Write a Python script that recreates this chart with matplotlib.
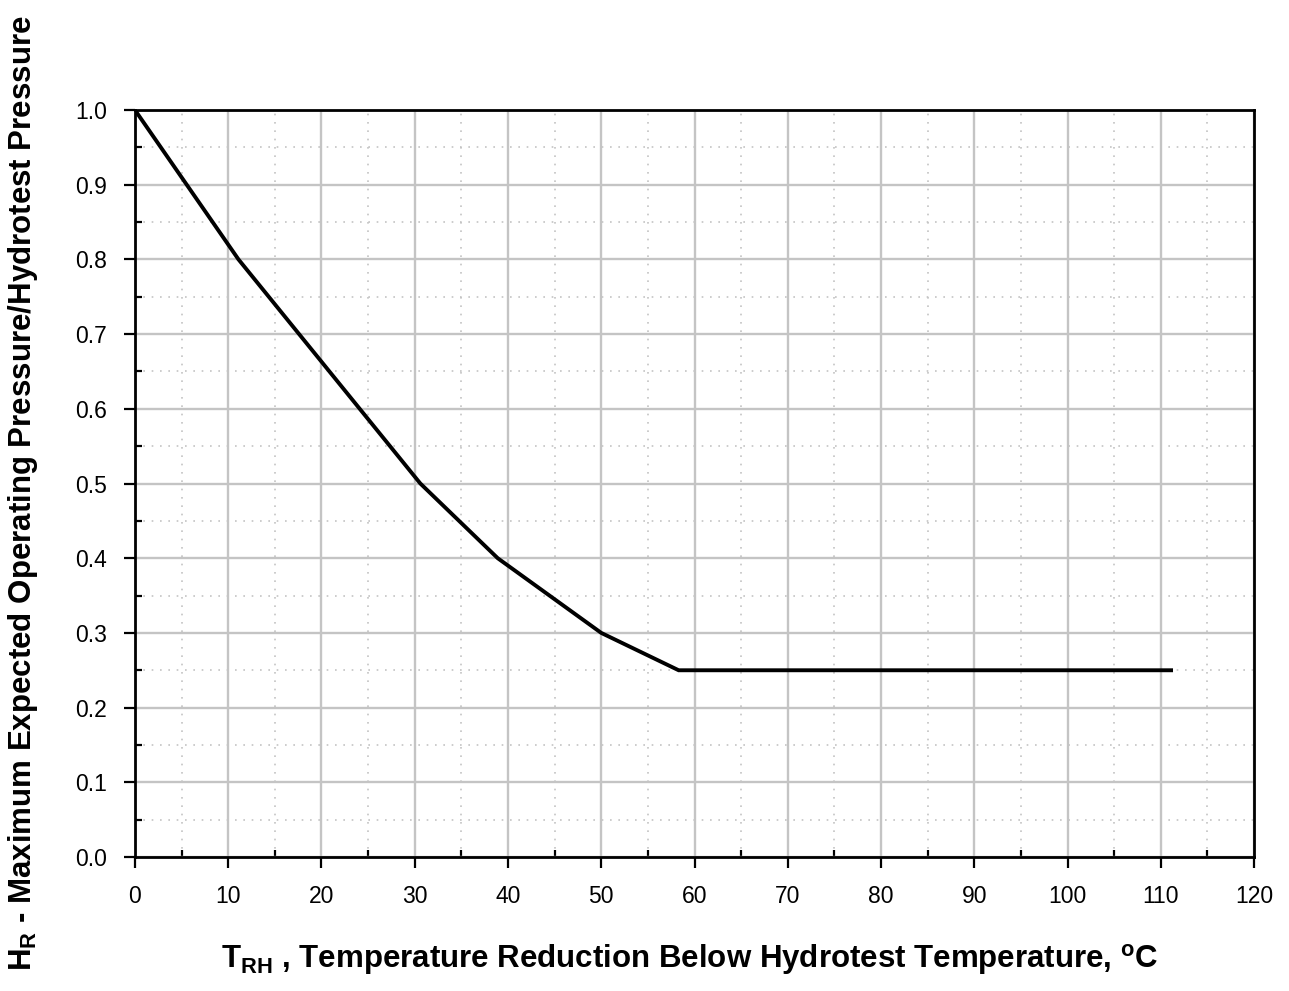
import matplotlib
matplotlib.use('Agg')
import matplotlib.pyplot as plt
from matplotlib.ticker import MultipleLocator

# Curve points (temperature reduction in deg C, pressure ratio)
t_rh = [0.0, 11.1, 30.6, 38.9, 50.0, 58.3, 111.1]
h_r = [1.0, 0.8, 0.5, 0.4, 0.3, 0.25, 0.25]

x_ticks = list(range(0, 121, 10))
y_ticks = [round(0.1 * i, 1) for i in range(11)]

plt.rcParams['font.family'] = ['Liberation Sans', 'DejaVu Sans']
plt.rcParams['mathtext.fontset'] = 'custom'
plt.rcParams['mathtext.rm'] = 'Liberation Sans'
plt.rcParams['mathtext.bf'] = 'Liberation Sans:bold'

fig = plt.figure(figsize=(12.89, 9.91), dpi=100)
ax = fig.add_axes([0.1047, 0.1352, 0.8682, 0.7538])

ax.plot(t_rh, h_r, color='black', lw=2.8, zorder=3, solid_joinstyle='miter')

ax.set_xlim(0, 120)
ax.set_ylim(0, 1.0)
ax.set_xticks(x_ticks)
ax.set_yticks(y_ticks)
ax.set_yticklabels([f'{v:.1f}' for v in y_ticks])
ax.xaxis.set_minor_locator(MultipleLocator(5))
ax.yaxis.set_minor_locator(MultipleLocator(0.05))

ax.grid(which='major', color='#c4c4c4', lw=1.7, zorder=0)
ax.grid(which='minor', color='#c4c4c4', lw=1.2, ls=(0, (1, 4)), zorder=0)

for s in ax.spines.values():
    s.set_linewidth(2.0)
    s.set_color('black')

ax.tick_params(which='major', direction='out', length=8, width=1.6,
               labelsize=16.5, pad=12)
ax.tick_params(which='minor', direction='in', length=5, width=1.6)
ax.tick_params(axis='x', which='both', bottom=True, top=False)
ax.tick_params(axis='y', which='both', left=True, right=False)

label_font = dict(fontsize=22.5, fontweight='bold',
                  family=['Liberation Sans Narrow', 'Liberation Sans'])
fig.text(0.535, 0.032,
         r'$\mathbf{T_{RH}}$ , Temperature Reduction Below Hydrotest Temperature, $\mathbf{^{o}C}$',
         ha='center', va='center', **label_font)
fig.text(0.018, 0.502,
         r'$\mathbf{H_R}$ - Maximum Expected Operating Pressure/Hydrotest Pressure',
         ha='center', va='center', rotation=90, **label_font)

fig.savefig('out.png', dpi=100, facecolor='white')
